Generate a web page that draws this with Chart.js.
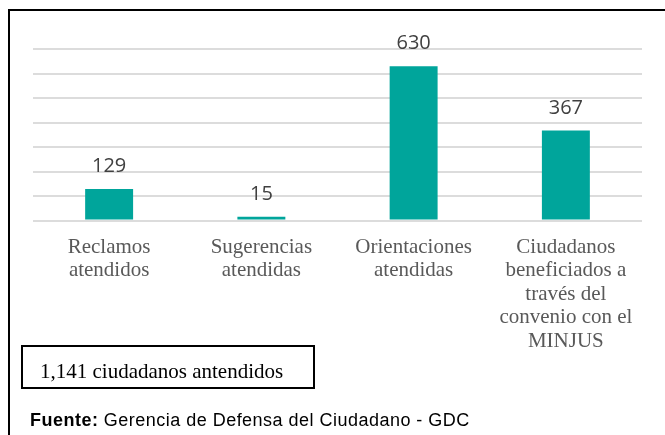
<!DOCTYPE html>
<html>
<head>
<meta charset="utf-8">
<script src="https://cdn.jsdelivr.net/npm/chart.js@4"></script>
<style>
  html, body { margin: 0; padding: 0; background: #fff; overflow: hidden; }
  #wrap { position: relative; width: 665px; height: 435px; }
  #chart { position: absolute; left: 0; top: 0; }
  .frame {
    position: absolute; left: 8px; top: 9px; width: 700px; height: 500px;
    border-left: 2px solid #000; border-top: 2px solid #000;
  }
  .total {
    position: absolute; left: 21px; top: 345px; width: 273px; height: 34px;
    padding: 6px 0 0 17px; border: 2px solid #000;
    font-family: "Liberation Serif", serif; font-size: 21px; line-height: 36px; color: #000;
    white-space: nowrap;
  }
  .source {
    position: absolute; left: 30px; top: 410px;
    font-family: "Liberation Sans", Arial, sans-serif; font-size: 18px; line-height: 20px;
    letter-spacing: 0.48px; color: #000; white-space: nowrap;
  }
</style>
</head>
<body>
<div id="wrap">
  <canvas id="chart" width="665" height="435"></canvas>
  <div class="frame"></div>
  <div class="total">1,141 ciudadanos antendidos</div>
  <div class="source"><b>Fuente:</b> Gerencia de Defensa del Ciudadano - GDC</div>
</div>
<script>
// categories (wrapped the way they appear under each bar)
const categories = [
    ['Reclamos', 'atendidos'],
    ['Sugerencias', 'atendidas'],
    ['Orientaciones', 'atendidas'],
    ['Ciudadanos', 'beneficiados a', 'través del', 'convenio con el', 'MINJUS']
];
const attended = [129, 15, 630, 367];
const yTicks = [0, 100, 200, 300, 400, 500, 600, 700];

// write the value above each bar
const valueLabels = {
    id: 'valueLabels',
    afterDatasetsDraw(chart) {
        const ctx = chart.ctx;
        const meta = chart.getDatasetMeta(0);
        ctx.save();
        ctx.font = '20px "Open Sans"';
        ctx.fillStyle = '#404040';
        ctx.textAlign = 'center';
        ctx.textBaseline = 'alphabetic';
        meta.data.forEach((bar, i) => {
            ctx.fillText(attended[i], bar.x, bar.y - 17);
        });
        ctx.restore();
    }
};

new Chart(document.getElementById('chart'), {
    type: 'bar',
    data: {
        labels: categories,
        datasets: [{
            data: attended,
            backgroundColor: '#00A59B',
            categoryPercentage: 1,
            barPercentage: 0.315
        }]
    },
    options: {
        responsive: false,
        animation: false,
        layout: { padding: { left: 33, right: 23, top: 49, bottom: 0 } },
        plugins: {
            legend: { display: false },
            tooltip: { enabled: false }
        },
        scales: {
            x: {
                grid: { display: false, drawTicks: false },
                border: { display: false },
                ticks: {
                    color: '#595959',
                    padding: 15,
                    maxRotation: 0,
                    autoSkip: false,
                    font: { family: 'Liberation Serif', size: 21, lineHeight: 1.12 }
                },
                afterFit(scale) { scale.height = 214.5; }
            },
            y: {
                min: yTicks[0],
                max: yTicks[yTicks.length - 1],
                afterBuildTicks(scale) { scale.ticks = yTicks.map(v => ({ value: v })); },
                ticks: { display: false },
                grid: { color: '#dcdcdc', lineWidth: 2, drawTicks: false },
                border: { display: false },
                afterFit(scale) { scale.width = 0; }
            }
        }
    },
    plugins: [valueLabels]
});
</script>
</body>
</html>
